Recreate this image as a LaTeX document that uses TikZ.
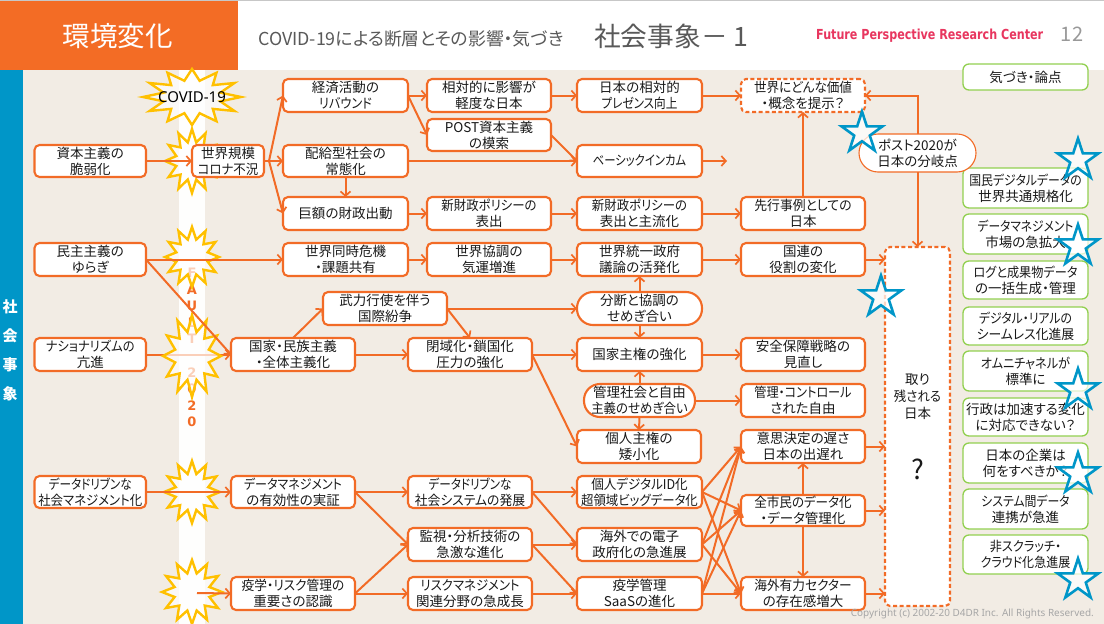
\documentclass[tikz,border=0pt]{standalone}
\usepackage{fontspec}
\setmainfont{Noto Sans CJK JP}[RawFeature={+palt}]
\newfontfamily\latinb{DejaVu Sans}[Scale=1]
\newfontfamily\latinr{Noto Sans}
\usetikzlibrary{arrows.meta,shapes.geometric}
\pgfdeclarelayer{back}
\pgfdeclarelayer{deco}
\pgfsetlayers{back,deco,main}
\definecolor{org}{HTML}{F26B26}
\definecolor{orgh}{HTML}{F36C25}
\definecolor{beige}{HTML}{F2ECE4}
\definecolor{bluec}{HTML}{0096C8}
\definecolor{grn}{HTML}{92D050}
\definecolor{ylw}{HTML}{FFC000}
\definecolor{hgray}{HTML}{595959}
\definecolor{pinkc}{HTML}{E8365F}
\tikzset{
  txt/.style={font=\fontsize{13.5}{16}\selectfont,align=center,text=black!90,inner sep=0pt,outer sep=0pt},
  obox/.style={txt,draw=org,line width=2.1pt,fill=white,rounded corners=5pt},
  dbox/.style={obox,dash pattern=on 4pt off 2.6pt},
  rbox/.style={obox,rounded corners=16pt},
  pbox/.style={txt,draw=org,line width=1.1pt,fill=white,rounded corners=19pt},
  gbox/.style={txt,draw=grn,line width=1.3pt,fill=white,rounded corners=6pt},
  conn/.style={draw=org,line width=2pt},
  arr/.style={conn,-{Straight Barb[length=4.5pt,width=10pt,line width=1.7pt]}},
  bstar/.style={star,star points=5,star point ratio=2.618,minimum size=43pt,inner sep=0pt,draw=bluec,line width=2.6pt,fill=white,fill opacity=.72,draw opacity=1},
  blastst/.style={draw=ylw,line width=2.4pt,fill=white,fill opacity=.68,draw opacity=1,line join=miter}
}
\newcommand\sx[2]{\scalebox{#1}[1]{#2}}
\newcommand\rsbox[7][obox]{%
  \pgfmathsetmacro\rscx{(#3+#5)/2}\pgfmathsetmacro\rscy{(#4+#6)/2}%
  \pgfmathsetmacro\rsw{#5-#3}\pgfmathsetmacro\rsh{#6-#4}%
  \node[#1,minimum width=\rsw pt,minimum height=\rsh pt] (#2) at (\rscx,\rscy) {#7};}
\newcommand\rsblast[4]{%
  \draw[blastst] (#1,#2-#4) \foreach \k in {1,...,23}{ -- ({#1+#3*(mod(\k,2)==0?1:0.6)*sin(\k*15)},{#2-#4*(mod(\k,2)==0?1:0.6)*cos(\k*15)}) } -- cycle;}
\begin{document}
\begin{tikzpicture}[x=1pt,y=-1pt]
\useasboundingbox (0,0) rectangle (1104,624);
\begin{pgfonlayer}{back}
  \fill[white] (0,0) rectangle (1104,624);
  \fill[black!22] (0,0) rectangle (1104,1.2);
  \fill[orgh] (0,1.2) rectangle (238,70);
  \fill[beige] (23,70) rectangle (1104,624);
  \fill[bluec] (0,70) rectangle (23,624);
  \fill[white,fill opacity=.95] (179,70) rectangle (205,624);
\end{pgfonlayer}
% header
\node[font=\fontsize{27.5}{30}\selectfont,text=white,inner sep=0pt] (ttl) at (117.5,36) {環境変化};
\node[font=\fontsize{17.85}{20}\selectfont,text=hgray,inner sep=0pt,anchor=west] (sub) at (258,39) {COVID-19による断層とその影響・気づき};
\node[font=\fontsize{26.7}{30}\selectfont,text=hgray,inner sep=0pt,anchor=west] (sub2) at (594,36) {社会事象－ 1};
\node[font=\latinb\bfseries\fontsize{14}{16}\selectfont,text=pinkc,inner sep=0pt,anchor=west] (fprc) at (816,36) {\resizebox{227pt}{10.5pt}{Future Perspective Research Center}};
\node[font=\fontsize{20}{22}\selectfont,text=black!40,inner sep=0pt] (pno) at (1072,34) {12};
\node[font=\bfseries\fontsize{15}{29}\selectfont,text=white,align=center,inner sep=0pt] (side) at (10,350) {社\\会\\事\\象};
% boxes
\rsbox{a1}{34.5}{145}{146}{177}{資本主義の\\脆弱化}
\rsbox{a2}{34.5}{243}{146}{276}{民主主義の\\ゆらぎ}
\rsbox{a3}{34.5}{338}{146}{371}{\sx{.91}{ナショナリズムの}\\亢進}
\rsbox{a4}{34.5}{476}{146}{508}{\sx{.86}{データドリブンな}\\\sx{.92}{社会マネジメント化}}
\rsbox{s1}{192}{145}{264}{177}{世界規模\\\sx{.92}{コロナ不況}}
\rsbox{b1}{283}{79}{408}{112}{経済活動の\\\sx{.9}{リバウンド}}
\rsbox{b2}{283}{145}{408}{177}{配給型社会の\\常態化}
\rsbox{b3}{283}{197}{408}{230}{巨額の財政出動}
\rsbox{b4}{283}{243}{408}{276}{世界同時危機\\・課題共有}
\rsbox{c1}{427}{79}{551}{112}{相対的に影響が\\軽度な日本}
\rsbox{c2}{427}{119}{551}{151}{POST資本主義\\の模索}
\rsbox{c3}{427}{197}{551}{230}{\sx{.92}{新財政ポリシーの}\\表出}
\rsbox{c4}{427}{243}{551}{276}{世界協調の\\気運増進}
\rsbox{d1}{577}{79}{702}{112}{日本の相対的\\\sx{.86}{プレゼンス向上}}
\rsbox{d3}{577}{145}{702}{177}{\sx{.84}{ベーシックインカム}}
\rsbox{d4}{577}{197}{702}{230}{\sx{.92}{新財政ポリシーの}\\表出と主流化}
\rsbox{d5}{577}{243}{702}{276}{世界統一政府\\議論の活発化}
\rsbox[rbox]{d6}{577}{292}{702}{325}{分断と協調の\\せめぎ合い}
\rsbox{d7}{577}{338}{702}{371}{国家主権の強化}
\rsbox[rbox]{d8}{584}{384}{695}{417}{管理社会と自由\\\sx{.92}{主義のせめぎ合い}}
\rsbox{d9}{577}{430}{701}{463}{個人主権の\\矮小化}
\rsbox{d10}{577}{476}{702}{508}{\sx{.93}{個人デジタルID化}\\\sx{.92}{超領域ビッグデータ化}}
\rsbox{d11}{577}{528}{702}{561}{海外での電子\\政府化の急進展}
\rsbox{d12}{577}{577}{702}{610}{疫学管理\\SaaSの進化}
\rsbox[dbox]{e1}{741}{79}{865}{112}{\sx{.93}{世界にどんな価値}\\・概念を提示？}
\rsbox{e4}{741}{197}{865}{230}{\sx{.95}{先行事例としての}\\日本}
\rsbox{e5}{741}{243}{865}{276}{国連の\\役割の変化}
\rsbox{e7}{741}{338}{865}{371}{安全保障戦略の\\見直し}
\rsbox{e8}{741}{384}{865}{417}{\sx{.9}{管理・コントロール}\\された自由}
\rsbox{e9}{741}{430}{865}{463}{意思決定の遅さ\\日本の出遅れ}
\rsbox{e10}{741}{495}{865}{526}{\sx{.93}{全市民のデータ化}\\・データ管理化}
\rsbox{e11}{741}{577}{865}{610}{\sx{.94}{海外有力セクター}\\の存在感増大}
\rsbox{m}{323}{292}{447}{325}{武力行使を伴う\\国際紛争}
\rsbox{n1}{231}{338}{355}{371}{国家・民族主義\\・全体主義化}
\rsbox{n2}{408}{338}{532}{371}{閉域化・鎖国化\\圧力の強化}
\rsbox{p1}{231}{476}{355}{508}{\sx{.89}{データマネジメント}\\の有効性の実証}
\rsbox{p2}{231}{577}{355}{610}{\sx{.94}{疫学・リスク管理の}\\重要さの認識}
\rsbox{q1}{408}{476}{532}{508}{\sx{.86}{データドリブンな}\\\sx{.95}{社会システムの発展}}
\rsbox{q2}{408}{528}{532}{561}{監視・分析技術の\\急激な進化}
\rsbox{q3}{408}{577}{532}{610}{\sx{.92}{リスクマネジメント}\\関連分野の急成長}
\rsbox[dbox]{rem}{885}{247}{950}{606}{}
\node[txt,font=\fontsize{13.5}{16.7}\selectfont] (remt) at (917.5,396.5) {取り\\\sx{.92}{残される}\\日本};
\node[txt,font=\fontsize{27}{30}\selectfont] (remq) at (917.5,469) {?};
\rsbox[gbox]{g0}{963}{64}{1088}{90}{気づき・論点}
\rsbox[gbox]{g1}{963}{168}{1088}{208}{\sx{.88}{国民デジタルデータの}\\世界共通規格化}
\rsbox[gbox]{g2}{963}{214}{1088}{254}{\sx{.87}{データマネジメント}\\市場の急拡大}
\rsbox[gbox]{g3}{963}{261}{1088}{299}{\sx{.9}{ログと成果物データ}\\の一括生成・管理}
\rsbox[gbox]{g4}{963}{307}{1088}{345}{\sx{.88}{デジタル・リアルの}\\\sx{.95}{シームレス化進展}}
\rsbox[gbox]{g5}{963}{351}{1088}{391}{\sx{.9}{オムニチャネルが}\\標準に}
\rsbox[gbox]{g6}{963}{398}{1088}{436}{行政は加速する変化\\に対応できない？}
\rsbox[gbox]{g7}{963}{443}{1088}{483}{日本の企業は\\何をすべきか？}
\rsbox[gbox]{g8}{963}{489}{1088}{529}{\sx{.88}{システム間データ}\\連携が急進}
\rsbox[gbox]{g9}{963}{535}{1088}{574}{\sx{.9}{非スクラッチ・}\\\sx{.89}{クラウド化急進展}}
\coordinate (fk) at (269,161);
\coordinate (stub) at (727,161);
\coordinate (bs) at (197,593);
% under the blasts
\begin{pgfonlayer}{back}
  \node[font=\latinb\bfseries\fontsize{13}{16.5}\selectfont,text=org,align=center,inner sep=0pt] (flt) at (192,347.5) {F\\A\\U\\L\\T\\[.4pt] \\2\\0\\2\\0};
  \draw[arr] (a3.east) -- (n1.west);
\end{pgfonlayer}
\begin{pgfonlayer}{deco}
  \rsblast{192}{97}{49}{28}
  \rsblast{192}{161}{27}{32}
  \rsblast{192}{257}{27}{30}
  \rsblast{192}{356}{29}{41}
  \rsblast{192}{492}{28}{31}
  \rsblast{192}{592}{30}{32}
\end{pgfonlayer}
\node[font=\latinr\fontsize{15}{16}\selectfont,text=black,inner sep=0pt] (cov) at (192,97) {COVID-19};
% connectors
\draw[arr] (a1.east) -- (s1.west);
\draw[conn] (s1.east) -- (fk);
\draw[arr] (fk) -- (b1.west);
\draw[arr] (fk) -- (b2.west);
\draw[arr] (fk) -- (b3.west);
\draw[arr] (b1.east) -- (c1.west);
\draw[arr] (b1.east) -- (c2.west);
\draw[arr] (c1.east) -- (d1.west);
\draw[arr] (d1.east) -- (e1.west);
\draw[arr] (b2.east) -- (d3.west);
\draw[arr] (c2.east) -- (d3.west);
\draw[arr] (d3.east) -- (stub);
\draw[arr] (b2.south) -- (b3.north);
\draw[arr] (b3.east) -- (c3.west);
\draw[arr] (c3.east) -- (d4.west);
\draw[arr] (d4.east) -- (e4.west);
\draw[arr] (e4.north) -- (e1.south);
\draw[arr] (a2.east) -- (b4.west);
\draw[arr] (a2.east) -- (n1.west);
\draw[arr] (b4.east) -- (c4.west);
\draw[arr] (c4.east) -- (d5.west);
\draw[arr] (d5.east) -- (e5.west);
\draw[arr] (e5.east) -- (e5.east -| rem.west);
\draw[arr] (n1.north) -- (m.west);
\draw[arr] (m.east) -- (d6.west);
\draw[arr] (m.east) -- (n2.north);
\draw[arr] (n1.east) -- (n2.west);
\draw[arr] (n2.east) -- (d7.west);
\draw[arr] (n2.east) -- (d9.west);
\draw[arr] (d6.north) -- (d5.south);
\draw[arr] (d6.south) -- (d7.north);
\draw[arr] (d8.north) -- (d7.south);
\draw[arr] (d8.south) -- (d9.north);
\draw[arr] (d7.east) -- (e7.west);
\draw[arr] (d8.east) -- (e8.west);
\draw[arr] (e9.east) -- (e9.east -| rem.west);
\draw[arr] (e10.east) -- (e10.east -| rem.west);
\draw[arr] (e11.east) -- (e11.east -| rem.west);
\draw[arr] (e10.north) -- (e9.south);
\draw[arr] (e10.south) -- (e11.north);
\draw[arr] (a4.east) -- (p1.west);
\draw[arr] (p1.east) -- (q1.west);
\draw[arr] (p1.east) -- (q2.west);
\draw[arr] (bs) -- (p2.west);
\draw[arr] (p2.east) -- (q2.west);
\draw[arr] (p2.east) -- (q3.west);
\draw[arr] (q1.east) -- (d10.west);
\draw[arr] (q1.east) -- (d11.west);
\draw[arr] (q2.east) -- (d11.west);
\draw[arr] (q2.east) -- (d12.west);
\draw[arr] (q3.east) -- (d12.west);
\foreach \u in {d10,d11,d12}{\foreach \v in {e9,e10,e11}{\draw[arr] (\u.east) -- (\v.west);}}
\rsbox[pbox]{post}{859}{134}{976}{172}{ポスト2020が\\日本の分岐点}
\draw[arr] (post.north) |- (e1.east);
\draw[arr] (post.south) -- (rem.north);
% stars
\node[bstar] (st1) at (862,133) {};
\node[bstar] (st2) at (1078,160) {};
\node[bstar] (st3) at (1078,246) {};
\node[bstar] (st4) at (881,297) {};
\node[bstar] (st5) at (1078,390) {};
\node[bstar] (st6) at (1078,474) {};
\node[bstar] (st7) at (1078,580) {};
\node[font=\latinr\fontsize{9.95}{11}\selectfont,text=black!35,inner sep=0pt,anchor=east] (copy) at (1094,614) {Copyright (c) 2002-20 D4DR Inc. All Rights Reserved.};
\end{tikzpicture}
\end{document}
